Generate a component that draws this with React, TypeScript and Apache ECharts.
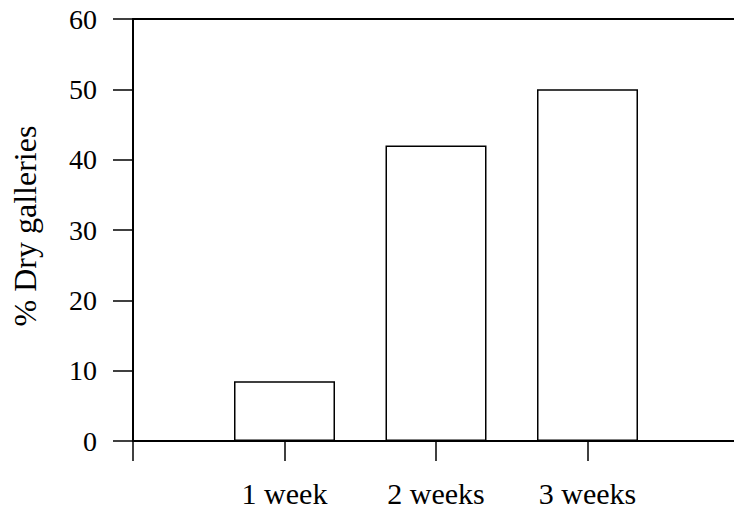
import { useEffect, useRef } from "react";
import * as echarts from "echarts";

const categories = ["", "1 week", "2 weeks", "3 weeks", ""];
const dryGalleries: (number | string)[] = ["-", 8.5, 42, 50, "-"];
const yMin = 0;
const yMax = 60;
const yInterval = 10;
const yAxisTitle = "% Dry galleries";

const FONT = "serif";

export default function App() {
  const ref = useRef<HTMLDivElement>(null);

  useEffect(() => {
    if (!ref.current) return;
    const chart = echarts.init(ref.current, undefined, { renderer: "svg" });
    chart.setOption({
      animation: false,
      backgroundColor: "#ffffff",
      textStyle: { fontFamily: FONT },
      grid: { left: 133, top: 19, right: 0, bottom: 70, containLabel: false },
      xAxis: [
        {
          type: "category",
          data: categories,
          boundaryGap: false,
          axisLine: { show: true, lineStyle: { color: "#000", width: 2 } },
          axisTick: { show: true, inside: false, length: 20, interval: 0, lineStyle: { color: "#000", width: 1.5 } },
          axisLabel: { show: true, interval: 0, margin: 37, color: "#000", fontFamily: FONT, fontSize: 30 },
          splitLine: { show: false },
        },
        {
          type: "category",
          data: categories,
          boundaryGap: false,
          position: "top",
          axisLine: { show: true, lineStyle: { color: "#000", width: 2 } },
          axisTick: { show: false },
          axisLabel: { show: false },
          splitLine: { show: false },
        },
      ],
      yAxis: {
        type: "value",
        min: yMin,
        max: yMax,
        interval: yInterval,
        name: yAxisTitle,
        nameLocation: "middle",
        nameGap: 92,
        nameTextStyle: { color: "#000", fontFamily: FONT, fontSize: 32, padding: [0, 0, 0, 8] },
        axisLine: { show: true, lineStyle: { color: "#000", width: 2 } },
        axisTick: { show: true, inside: false, length: 20, lineStyle: { color: "#000", width: 1.5 } },
        axisLabel: { show: true, margin: 36, color: "#000", fontFamily: FONT, fontSize: 28 },
        splitLine: { show: false },
      },
      series: [
        {
          type: "bar",
          xAxisIndex: 0,
          data: dryGalleries,
          barWidth: 101,
          itemStyle: { color: "#ffffff", borderColor: "#000", borderWidth: 1.5 },
        },
      ],
    });
    return () => chart.dispose();
  }, []);

  return (
    <div style={{ position: "fixed", left: 0, top: 0, width: 734, height: 511, overflow: "hidden", background: "#fff" }}>
      <div ref={ref} style={{ width: 742, height: 511 }} />
    </div>
  );
}
